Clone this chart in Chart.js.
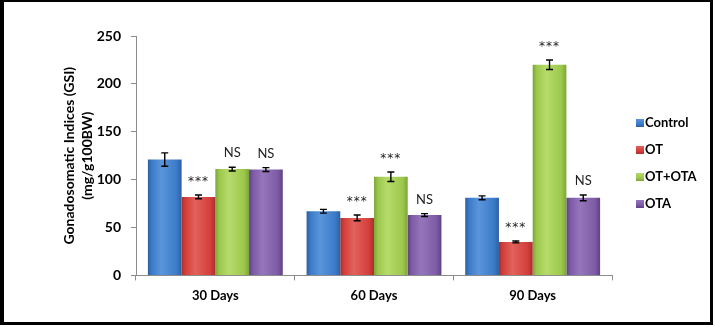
<!DOCTYPE html>
<html>
<head>
<meta charset="utf-8">
<script src="https://cdn.jsdelivr.net/npm/chart.js@4"></script>
<style>
  html, body { margin: 0; padding: 0; background: #fff; }
  #contenedor { position: relative; width: 715px; height: 327px; }
  #marco { position: absolute; left: 0; top: 0; width: 713px; height: 325px; box-sizing: border-box;
           border: 3px solid #000; border-left-width: 4px; border-top-width: 2px; pointer-events: none; }
  #leyenda { position: absolute; left: 636px; top: 0; font: bold 13px Lato, sans-serif; color: #000; }
  .item { position: absolute; left: 0; white-space: nowrap; height: 16px; line-height: 16px; }
  .caja { display: inline-block; width: 8px; height: 8px; margin-right: 1px; vertical-align: 0px; }
</style>
</head>
<body>
<div id="contenedor">
  <canvas id="grafico" width="715" height="327"></canvas>
  <div id="leyenda"></div>
  <div id="marco"></div>
</div>
<script>
// Datos
const categorias = ['30 Days', '60 Days', '90 Days'];
const series = ['Control', 'OT', 'OT+OTA', 'OTA'];
const valControl = [121, 67, 81];
const valOT = [82, 60, 35];
const valOTOTA = [111, 103, 220];
const valOTA = [110.5, 63, 81];
const errControl = [7, 2, 2];
const errOT = [2, 3, 1];
const errOTOTA = [2, 5, 5];
const errOTA = [2, 1.5, 3];
const sigControl = ['', '', ''];
const sigOT = ['***', '***', '***'];
const sigOTOTA = ['NS', '***', '***'];
const sigOTA = ['NS', 'NS', 'NS'];
const ticksY = [0, 50, 100, 150, 200, 250];

// colores: [oscuro, base, claro]
const colores = [
  ['#2C609F', '#3C7BC9', '#5A95DA'],
  ['#A92F2B', '#D33F3B', '#E2625C'],
  ['#7DA53A', '#9CC84B', '#B6DB6C'],
  ['#5E4283', '#7E5BA6', '#9576BB']
];
const porcentajeCat = 0.85;

function degradado(ctx) {
  const c = colores[ctx.datasetIndex];
  const chart = ctx.chart;
  const xs = chart.scales && chart.scales.x;
  if (!xs || ctx.dataIndex == null) return c[1];
  const centro = xs.getPixelForValue(ctx.dataIndex);
  const ancho = (xs.width / categorias.length) * porcentajeCat / series.length;
  const izq = centro + (ctx.datasetIndex - series.length / 2) * ancho;
  if (!isFinite(izq) || !isFinite(ancho) || ancho <= 0) return c[1];
  const g = chart.ctx.createLinearGradient(izq, 0, izq + ancho, 0);
  g.addColorStop(0, c[0]);
  g.addColorStop(0.12, c[1]);
  g.addColorStop(0.4, c[2]);
  g.addColorStop(0.85, c[1]);
  g.addColorStop(1, c[0]);
  return g;
}

// Plugin para barras de error y marcas de significancia
const barrasError = {
  id: 'barrasError',
  afterDatasetsDraw(chart) {
    const ctx = chart.ctx;
    const y = chart.scales.y;
    chart.data.datasets.forEach((ds, i) => {
      const meta = chart.getDatasetMeta(i);
      meta.data.forEach((bar, j) => {
        const v = ds.data[j];
        const e = ds.errores[j];
        const arriba = y.getPixelForValue(v + e);
        const abajo = y.getPixelForValue(v - e);
        ctx.save();
        ctx.strokeStyle = '#000';
        ctx.lineWidth = 1.4;
        ctx.beginPath();
        ctx.moveTo(bar.x, arriba); ctx.lineTo(bar.x, abajo);
        ctx.moveTo(bar.x - 3.5, arriba); ctx.lineTo(bar.x + 3.5, arriba);
        ctx.moveTo(bar.x - 3.5, abajo); ctx.lineTo(bar.x + 3.5, abajo);
        ctx.stroke();
        const s = ds.significancia[j];
        if (s) {
          ctx.fillStyle = '#222';
          ctx.textAlign = 'center';
          ctx.textBaseline = 'middle';
          if (s === 'NS') {
            ctx.font = '13px Lato, sans-serif';
            ctx.fillText(s, bar.x, arriba - 14);
          } else {
            ctx.font = '12px "DejaVu Sans", sans-serif';
            ctx.letterSpacing = '1px';
            ctx.fillText(s, bar.x, arriba - 13);
          }
        }
        ctx.restore();
      });
    });
  }
};

const valores = [valControl, valOT, valOTOTA, valOTA];
const errores = [errControl, errOT, errOTOTA, errOTA];
const sigs = [sigControl, sigOT, sigOTOTA, sigOTA];

const grafico = new Chart(document.getElementById('grafico').getContext('2d'), {
  type: 'bar',
  data: {
    labels: categorias,
    datasets: series.map((nombre, i) => ({
      label: nombre,
      data: valores[i],
      errores: errores[i],
      significancia: sigs[i],
      backgroundColor: degradado,
      borderWidth: 0,
      categoryPercentage: porcentajeCat,
      barPercentage: 1.0
    }))
  },
  options: {
    responsive: false,
    animation: false,
    devicePixelRatio: 1,
    layout: { padding: { left: 0, top: 36, right: 103, bottom: 15 } },
    plugins: {
      legend: { display: false },
      tooltip: { enabled: false }
    },
    scales: {
      x: {
        grid: { drawOnChartArea: false, drawTicks: true, tickLength: 5, color: '#8c8c8c', offset: true },
        border: { color: '#8c8c8c' },
        ticks: { color: '#000', padding: 8, font: { family: 'Lato', size: 13, weight: 'bold' } }
      },
      y: {
        min: 0,
        max: 250,
        afterBuildTicks: s => { s.ticks = ticksY.map(v => ({ value: v })); },
        afterFit: s => { s.width = 136; },
        grid: { drawOnChartArea: false, drawTicks: true, tickLength: 5, color: '#8c8c8c' },
        border: { color: '#8c8c8c' },
        ticks: { color: '#000', padding: 10, font: { family: 'Lato', size: 14, weight: 'bold' } },
        title: {
          display: true,
          text: ['Gonadosomatic Indices (GSI)', '(mg/g100BW)'],
          color: '#000',
          padding: { top: 60, bottom: 0 },
          font: { family: 'Lato', size: 14, weight: 'bold', lineHeight: 1.3 }
        }
      }
    }
  },
  plugins: [barrasError]
});

// Leyenda en HTML
const centrosLeyenda = [122, 149, 176, 203];
const leyenda = document.getElementById('leyenda');
series.forEach((nombre, i) => {
  const item = document.createElement('div');
  item.className = 'item';
  item.style.top = (centrosLeyenda[i] - 8) + 'px';
  const caja = document.createElement('span');
  caja.className = 'caja';
  caja.style.background = 'linear-gradient(180deg,' + colores[i][2] + ',' + colores[i][1] + ' 60%,' + colores[i][0] + ')';
  item.appendChild(caja);
  item.appendChild(document.createTextNode(nombre));
  leyenda.appendChild(item);
});
</script>
</body>
</html>
